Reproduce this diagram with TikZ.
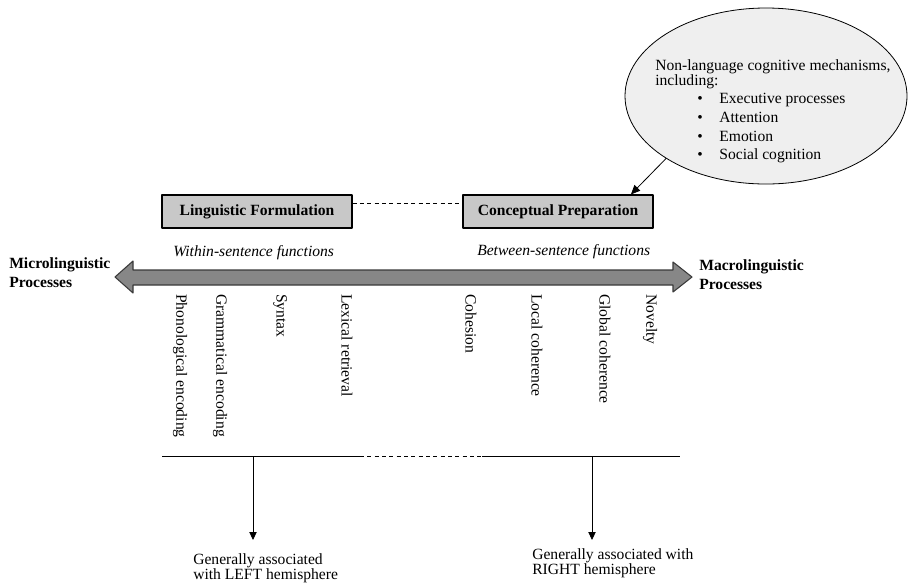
\documentclass[tikz,border=0pt]{standalone}
\usepackage{fontspec}
\setmainfont{Liberation Serif}
\usetikzlibrary{arrows.meta,shapes.geometric}
\definecolor{boxgray}{HTML}{C8C8C8}
\definecolor{arrowgray}{HTML}{878787}
\definecolor{arrowedge}{HTML}{3A3A3A}
\definecolor{ellgray}{HTML}{EFEFEF}

\begin{document}
\begin{tikzpicture}[x=0.75pt,y=-0.75pt,line join=round,
  font=\fontsize{11.7}{11.25}\selectfont,
  procbox/.style={draw,line width=0.8pt,fill=boxgray,minimum width=142.5pt,
    minimum height=24.75pt,inner sep=0pt,font=\fontsize{11.7}{13}\selectfont\bfseries},
  vlab/.style={rotate=-90,anchor=west,inner sep=0pt},
  txt/.style={anchor=north west,inner sep=0pt,align=left},
  endlab/.style={txt,font=\fontsize{11.7}{14.25}\selectfont\bfseries},
  fnlab/.style={anchor=base west,inner sep=0pt,font=\fontsize{11.7}{13}\selectfont\itshape},
  drop/.style={-{Triangle[length=6pt,width=5.5pt]},line width=0.6pt},
  gap/.style={dash pattern=on 3pt off 2.5pt,line width=0.6pt}]
\useasboundingbox (0,0) rectangle (913,583);

% non-language mechanisms
\node[ellipse,draw,fill=ellgray,line width=0.6pt,minimum width=211.5pt,
  minimum height=132pt,inner sep=0pt] (cog) at (766,96) {};
\node[txt] (cogtxt) at (655,59) {Non-language cognitive mechanisms,\\
including:\\[2.75pt]
\hspace*{31.5pt}\textbullet\hspace{12.5pt}Executive processes\\[2.75pt]
\hspace*{31.5pt}\textbullet\hspace{12.5pt}Attention\\[2.75pt]
\hspace*{31.5pt}\textbullet\hspace{12.5pt}Emotion\\[2.75pt]
\hspace*{31.5pt}\textbullet\hspace{12.5pt}Social cognition};

% the two stages
\node[procbox] (ling) at (257,211.5) {Linguistic Formulation};
\node[procbox] (concept) at (558,211.5) {Conceptual Preparation};
\draw[gap] ([yshift=6pt]ling.east) -- ([yshift=6pt]concept.west);
\draw[-{Triangle[length=7pt,width=6pt]},line width=0.6pt] (cog.south west) -- ([xshift=-17pt]concept.north east);

\node[fnlab] (within) at (173,256) {Within-sentence functions};
\node[fnlab] (between) at (477,255) {Between-sentence functions};

% the continuum
\draw[line width=0.8pt,draw=arrowedge,fill=arrowgray] (115,277) -- (133,261) -- (133,270)
  -- (673,270) -- (673,262) -- (692,277) -- (673,292) -- (673,285) -- (133,285)
  -- (133,293) -- cycle;
\node[endlab] (micro) at (9,257) {Microlinguistic\\Processes};
\node[endlab] (macro) at (699,259) {Macrolinguistic\\Processes};

% processes along it
\node[vlab] (phon) at (180,294) {Phonological encoding};
\node[vlab] (gram) at (220,294) {Grammatical encoding};
\node[vlab] (syntax) at (280,294) {Syntax};
\node[vlab] (lexical) at (347,294) {Lexical retrieval};
\node[vlab] (cohesion) at (471,294) {Cohesion};
\node[vlab] (local) at (537,294) {Local coherence};
\node[vlab] (global) at (605,294) {Global coherence};
\node[vlab] (novelty) at (650,294) {Novelty};

% hemispheres
\coordinate (baseL) at (162,456);
\coordinate (gapL) at (360,456);
\coordinate (gapR) at (482,456);
\coordinate (baseR) at (680,456);
\coordinate (leftdrop) at (253,456);
\coordinate (rightdrop) at (592,456);
\coordinate (leftend) at (253,540);
\coordinate (rightend) at (592,540);
\draw[line width=0.6pt] (baseL) -- (gapL);
\draw[gap] (gapL) -- (gapR);
\draw[line width=0.6pt] (gapR) -- (baseR);
\draw[drop] (leftdrop) -- (leftend);
\draw[drop] (rightdrop) -- (rightend);
\node[txt] (lefthemi) at (193,553) {Generally associated\\with LEFT hemisphere};
\node[txt] (righthemi) at (532,548) {Generally associated with\\RIGHT hemisphere};
\end{tikzpicture}
\end{document}
